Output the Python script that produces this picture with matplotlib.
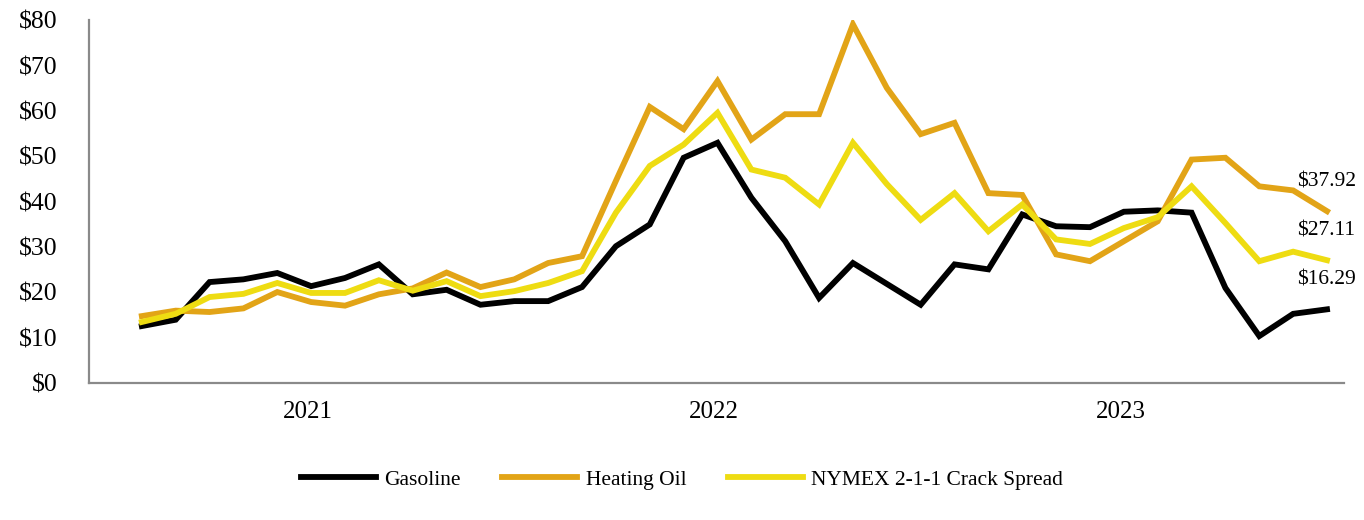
import numpy as np
import matplotlib
matplotlib.use('Agg')
import matplotlib.pyplot as plt

# monthly values, $/bbl
gasoline = [12.6, 14.0, 22.3, 22.9, 24.3, 21.4, 23.2, 26.2, 19.6, 20.6, 17.3, 18.1,
            18.1, 21.2, 30.2, 35.0, 49.7, 53.0, 40.9, 31.3, 18.8, 26.5, 21.9, 17.3,
            26.2, 25.1, 37.2, 34.6, 34.4, 37.8, 38.1, 37.6, 21.0, 10.4, 15.3, 16.29]
heating_oil = [14.8, 16.0, 15.7, 16.5, 20.1, 17.9, 17.1, 19.6, 20.9, 24.4, 21.2, 22.9,
               26.5, 28.0, 44.6, 60.9, 56.0, 66.6, 53.7, 59.3, 59.3, 79.1, 65.1, 54.9,
               57.4, 41.9, 41.5, 28.4, 26.9, 31.3, 35.7, 49.3, 49.7, 43.4, 42.5, 37.92]
crack_spread = [13.5, 15.3, 19.0, 19.7, 22.1, 19.9, 19.9, 22.7, 20.4, 22.5, 19.2, 20.3,
                22.1, 24.7, 37.6, 47.9, 52.6, 59.6, 47.1, 45.3, 39.4, 53.0, 43.9, 36.0,
                41.9, 33.5, 39.4, 31.7, 30.7, 34.2, 36.6, 43.4, 35.3, 26.9, 29.0, 27.11]
years = ['2021', '2022', '2023']
year_pos = [4.9, 16.9, 28.9]
yticks = [0, 10, 20, 30, 40, 50, 60, 70, 80]

series = [('Gasoline', gasoline, '#000000'),
          ('Heating Oil', heating_oil, '#E2A417'),
          ('NYMEX 2-1-1 Crack Spread', crack_spread, '#EEDC12')]

plt.rcParams['font.family'] = ['Liberation Serif', 'DejaVu Serif']

fig = plt.figure(figsize=(13.64, 5.2), dpi=100)
ax = fig.add_axes([0.0655, 0.263, 0.9198, 0.698])

x = np.arange(len(gasoline))
for name, vals, col in series:
    ax.plot(x, vals, color=col, lw=4.2, label=name, solid_joinstyle='miter')
    ax.annotate('$%.2f' % vals[-1], (x[-1], vals[-1]), xytext=(-30, 29),
                textcoords='offset pixels', fontsize=15.5, ha='left', va='center')

ax.set_xlim(-1.55, 35.5)
ax.set_ylim(0, 80)
ax.set_yticks(yticks)
ax.set_yticklabels(['$%d' % v for v in yticks], fontsize=18.5)
ax.set_xticks(year_pos)
ax.set_xticklabels(years, fontsize=18)
ax.tick_params(axis='y', length=0, pad=23)
ax.tick_params(axis='x', length=0, pad=13)
for s in ['top', 'right']:
    ax.spines[s].set_visible(False)
for s in ['left', 'bottom']:
    ax.spines[s].set_color('#8a8a8a')
    ax.spines[s].set_linewidth(1.6)

fig.legend(loc='center', bbox_to_anchor=(0.5, 0.077), ncol=3, frameon=False,
           fontsize=15.5, handlelength=3.5, handletextpad=0.4, columnspacing=1.9)

fig.savefig('out.png', dpi=100)
